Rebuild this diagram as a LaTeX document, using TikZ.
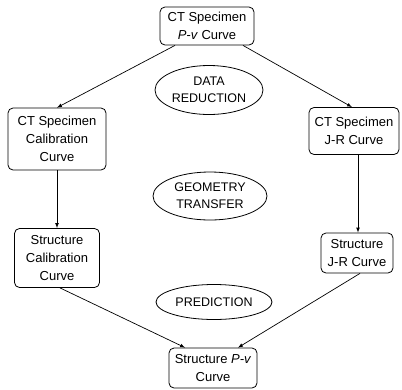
\documentclass[tikz,border=0pt]{standalone}
\usepackage{fontspec}
\setmainfont{Liberation Sans}
\usetikzlibrary{shapes.geometric}

\begin{document}
\begin{tikzpicture}[x=1pt,y=-1pt,
                    box/.style={draw,line width=0.8pt,rounded corners=5pt,align=center,
                                inner sep=0pt,font=\fontsize{13}{18}\selectfont},
                    oval/.style={draw,ellipse,line width=0.8pt,align=center,inner sep=0pt,
                                 font=\fontsize{12.5}{17}\selectfont},
                    flow/.style={->,>=latex,line width=0.7pt}]
                    \useasboundingbox (0,0) rectangle (402,389);
                    % boxes
                    \node[box,minimum width=94pt,minimum height=38pt] (ctpv) at (207,26) {CT Specimen\\\textit{P-v} Curve};
                    \node[box,minimum width=98pt,minimum height=62pt] (ctcal) at (57,139) {CT Specimen\\Calibration\\Curve};
                    \node[box,minimum width=90pt,minimum height=47pt] (ctjr) at (354,131) {CT Specimen\\J-R Curve};
                    \node[box,minimum width=85pt,minimum height=59pt] (stcal) at (57,258) {Structure\\Calibration\\Curve};
                    \node[box,minimum width=72pt,minimum height=40pt] (stjr) at (357,253) {Structure\\J-R Curve};
                    \node[box,minimum width=88pt,minimum height=40pt] (stpv) at (213,368) {Structure \textit{P-v}\\Curve};
                    % steps
                    \node[oval,minimum width=108pt,minimum height=49pt] (reduce) at (209,90) {DATA\\REDUCTION};
                    \node[oval,minimum width=114pt,minimum height=48pt] (transfer) at (210,196) {GEOMETRY\\TRANSFER};
                    \node[oval,minimum width=116pt,minimum height=35pt] (predict) at (214,302) {PREDICTION};
                    % arrows
                    \draw[flow] ([xshift=-32pt]ctpv.south) -- (ctcal.north);
                    \draw[flow] ([xshift=36pt]ctpv.south) -- ([xshift=-2pt]ctjr.north);
                    \draw[flow] (ctcal) -- (stcal);
                    \draw[flow] ([xshift=4pt]ctjr.south) -- ([xshift=1pt]stjr.north);
                    \draw[flow] ([xshift=3pt]stcal.south) -- ([xshift=-28pt]stpv.north);
                    \draw[flow] ([xshift=3pt]stjr.south) -- ([xshift=25pt]stpv.north);
                \end{tikzpicture}
\end{document}
